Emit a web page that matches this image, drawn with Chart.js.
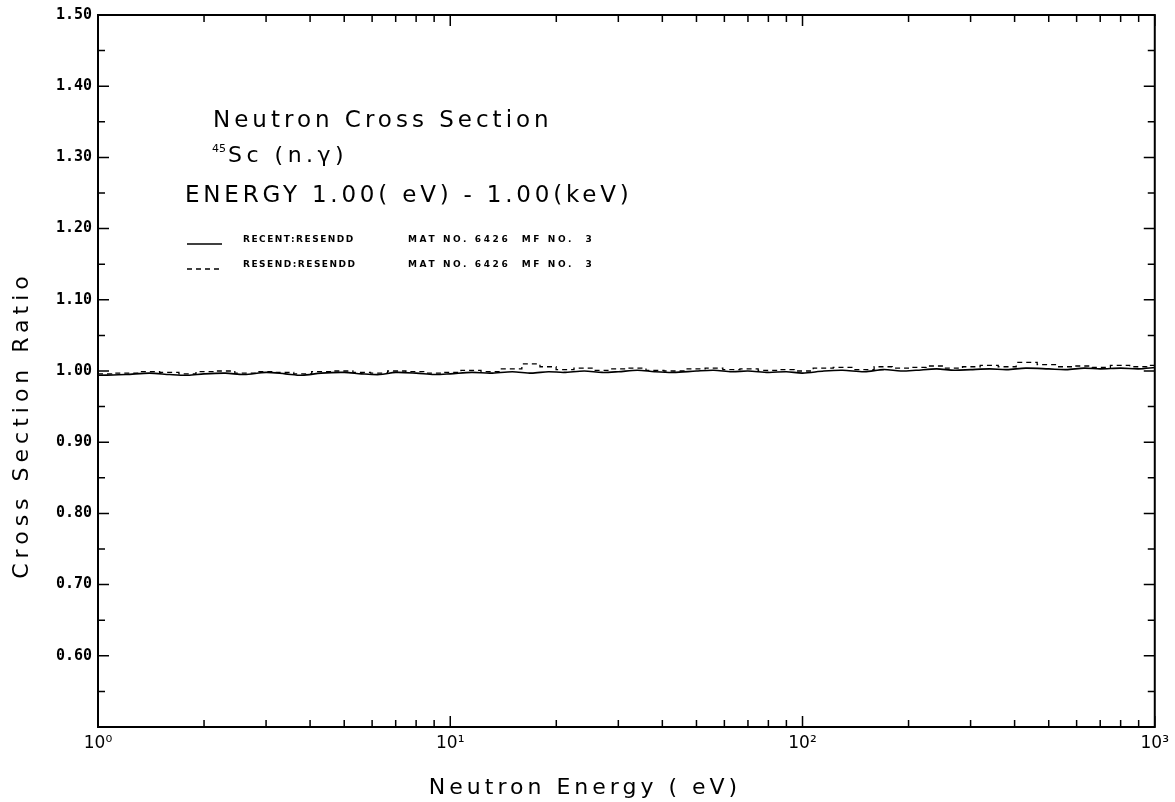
<!DOCTYPE html>
<html>
<head>
<meta charset="utf-8">
<script src="https://cdn.jsdelivr.net/npm/chart.js@4.4.1/dist/chart.umd.min.js"></script>
<style>
  html, body { margin: 0; padding: 0; background: #fff; }
  #wrap { width: 1175px; height: 802px; position: relative; }
</style>
</head>
<body>
<div id="wrap"><canvas id="grafico"></canvas></div>
<script>
// Energia del neutron (eV)
const energias = [1, 1.2, 1.4, 1.6, 1.8, 2, 2.3, 2.6, 3, 3.4, 3.8, 4.3, 5, 5.6, 6.3, 7, 8, 9,
  10, 11.5, 13, 15, 17, 19, 21, 24, 27, 30, 34, 38, 43, 50, 56, 63, 70, 80, 90,
  100, 115, 130, 150, 170, 190, 210, 240, 270, 300, 340, 380, 430, 500, 560, 630, 700, 800, 900, 1000];

// RECENT:RESENDD (linea continua)
const recent = [0.994, 0.995, 0.997, 0.995, 0.994, 0.996, 0.997, 0.995, 0.998, 0.996, 0.994, 0.997, 0.998, 0.996, 0.995, 0.998, 0.997, 0.995,
  0.996, 0.998, 0.997, 0.999, 0.997, 0.999, 0.998, 1.000, 0.998, 0.999, 1.001, 0.999, 0.998, 1.000, 1.001, 0.999, 1.000, 0.998, 0.999,
  0.997, 1.000, 1.001, 0.999, 1.002, 1.000, 1.001, 1.003, 1.001, 1.002, 1.003, 1.002, 1.004, 1.003, 1.002, 1.004, 1.003, 1.004, 1.003, 1.005];

// RESEND:RESENDD (linea discontinua)
const resend = [0.996, 0.997, 0.999, 0.998, 0.996, 0.999, 1.000, 0.997, 0.999, 0.998, 0.996, 0.999, 1.000, 0.998, 0.997, 1.000, 0.999, 0.997,
  0.998, 1.001, 0.999, 1.003, 1.010, 1.006, 1.002, 1.004, 1.001, 1.003, 1.004, 1.001, 1.000, 1.003, 1.004, 1.002, 1.003, 1.001, 1.002,
  1.000, 1.004, 1.005, 1.002, 1.006, 1.004, 1.005, 1.007, 1.004, 1.006, 1.008, 1.006, 1.012, 1.009, 1.006, 1.007, 1.005, 1.008, 1.006, 1.008];

const decadas = [1, 10, 100, 1000];
const etiquetasY = [0.6, 0.7, 0.8, 0.9, 1.0, 1.1, 1.2, 1.3, 1.4, 1.5];
const superindice = { 1: "⁰", 10: "¹", 100: "²", 1000: "³" };

const nombres = ["RECENT:RESENDD", "RESEND:RESENDD"];
const material = "MAT NO. 6426  MF NO.  3";

// Marcas hacia dentro en los cuatro lados, caja y textos del grafico
const decoracion = {
  id: "decoracion",
  beforeDraw(chart) {
    const ctx = chart.ctx;
    ctx.save();
    ctx.fillStyle = "#fff";
    ctx.fillRect(0, 0, chart.width, chart.height);
    ctx.restore();
  },
  afterDraw(chart) {
    const ctx = chart.ctx;
    const a = chart.chartArea;
    const sx = chart.scales.x, sy = chart.scales.y;
    ctx.save();
    ctx.strokeStyle = "#000";
    ctx.lineWidth = 2;
    ctx.strokeRect(a.left, a.top, a.right - a.left, a.bottom - a.top);

    ctx.lineWidth = 1.5;
    ctx.beginPath();
    // eje x: decadas y subdivisiones 2..9
    for (let d = 0; d < decadas.length; d++) {
      for (let m = 1; m <= 9; m++) {
        const v = decadas[d] * m;
        if (v > 1000) break;
        const px = sx.getPixelForValue(v);
        const len = m === 1 ? 11 : 7;
        ctx.moveTo(px, a.bottom); ctx.lineTo(px, a.bottom - len);
        ctx.moveTo(px, a.top); ctx.lineTo(px, a.top + len);
      }
    }
    // eje y: cada 0.05
    for (let i = 0; i <= 20; i++) {
      const v = 0.5 + i * 0.05;
      const py = sy.getPixelForValue(v);
      const len = i % 2 === 0 ? 11 : 7;
      ctx.moveTo(a.left, py); ctx.lineTo(a.left + len, py);
      ctx.moveTo(a.right, py); ctx.lineTo(a.right - len, py);
    }
    ctx.stroke();

    ctx.fillStyle = "#000";
    ctx.textBaseline = "middle";
    ctx.textAlign = "left";

    ctx.letterSpacing = "4px";
    ctx.font = '23px "DejaVu Sans"';
    ctx.fillText("Neutron Cross Section", 213, 121);
    ctx.font = '11px "DejaVu Sans"';
    ctx.letterSpacing = "0px";
    ctx.fillText("45", 212, 149);
    ctx.letterSpacing = "4.5px";
    ctx.font = '22px "DejaVu Sans"';
    ctx.fillText("Sc (n.γ)", 228, 156);
    ctx.font = '23px "DejaVu Sans"';
    ctx.letterSpacing = "3.8px";
    ctx.fillText("ENERGY 1.00( eV) - 1.00(keV)", 185, 196);

    // leyenda
    chart.data.datasets.forEach((ds, i) => {
      const y = 240 + i * 25;
      ctx.beginPath();
      ctx.lineWidth = 1.3;
      ctx.setLineDash(ds.borderDash || []);
      ctx.moveTo(187, y + 4); ctx.lineTo(222, y + 4);
      ctx.stroke();
      ctx.setLineDash([]);
      ctx.font = 'bold 9px "DejaVu Sans"';
      ctx.letterSpacing = "1.5px";
      ctx.fillText(ds.label, 243, y);
      ctx.letterSpacing = "2.6px";
      ctx.fillText(material, 408, y);
    });

    // titulos de ejes
    ctx.font = '22px "DejaVu Sans"';
    ctx.letterSpacing = "4px";
    ctx.textAlign = "center";
    ctx.fillText("Neutron Energy ( eV)", 585, 788);
    ctx.letterSpacing = "5px";
    ctx.translate(22, 425);
    ctx.rotate(-Math.PI / 2);
    ctx.fillText("Cross Section Ratio", 0, 0);
    ctx.restore();
  }
};

new Chart(document.getElementById("grafico").getContext("2d"), {
  type: "line",
  data: {
    datasets: [
      {
        label: nombres[0],
        data: energias.map((e, i) => ({ x: e, y: recent[i] })),
        borderColor: "#000",
        borderWidth: 1.6,
        pointRadius: 0,
        tension: 0.3,
      },
      {
        label: nombres[1],
        data: energias.map((e, i) => ({ x: e, y: resend[i] })),
        borderColor: "#000",
        borderWidth: 1.3,
        borderDash: [5, 4],
        pointRadius: 0,
        stepped: "middle",
      },
    ],
  },
  options: {
    responsive: true,
    maintainAspectRatio: false,
    animation: false,
    layout: { padding: { top: 15, right: 15, left: 0, bottom: 0 } },
    plugins: { legend: { display: false }, tooltip: { enabled: false } },
    scales: {
      x: {
        type: "logarithmic",
        min: 1,
        max: 1000,
        grid: { display: false, drawTicks: false },
        border: { display: false },
        afterBuildTicks: (s) => { s.ticks = decadas.map((v) => ({ value: v })); },
        afterFit: (s) => { s.height = 75; },
        ticks: {
          color: "#000",
          padding: 6,
          maxRotation: 0,
          font: { family: "DejaVu Sans", size: 17 },
          callback: (v) => "10" + (superindice[v] || ""),
        },
      },
      y: {
        min: 0.5,
        max: 1.5,
        grid: { display: false, drawTicks: false },
        border: { display: false },
        afterBuildTicks: (s) => { s.ticks = etiquetasY.map((v) => ({ value: v })); },
        afterFit: (s) => { s.width = 98; },
        ticks: {
          color: "#000",
          padding: 6,
          font: { family: "DejaVu Sans Mono", size: 15, weight: "bold" },
          callback: (v) => Number(v).toFixed(2),
        },
      },
    },
  },
  plugins: [decoracion],
});
</script>
</body>
</html>
